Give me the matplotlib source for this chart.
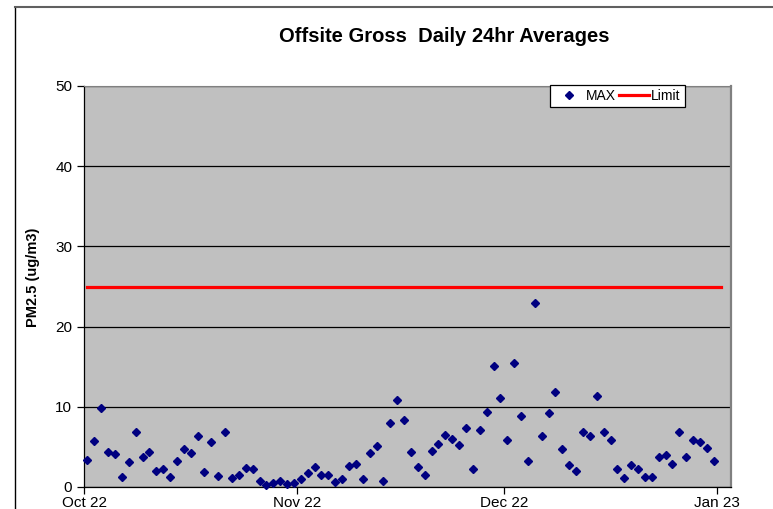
import numpy as np
import matplotlib
matplotlib.use("Agg")
import matplotlib.pyplot as plt
import matplotlib.dates as mdates
from matplotlib.lines import Line2D

plt.rcParams["font.family"] = ["Liberation Sans", "DejaVu Sans"]

# data: daily PM2.5 max, Oct 1 2022 .. Dec 31 2022
oct_vals = [3.4, 5.7, 9.85, 4.4, 4.1, 1.2, 3.1, 6.8, 3.7, 4.4, 2.0, 2.2, 1.3, 3.3, 4.7, 4.3,
            6.3, 1.9, 5.6, 1.4, 6.9, 1.1, 1.5, 2.4, 2.2, 0.75, 0.25, 0.45, 0.8, 0.4, 0.5]
nov_vals = [0.95, 1.8, 2.45, 1.5, 1.5, 0.6, 1.0, 2.6, 2.9, 1.0, 4.3, 5.1, 0.75, 8.0, 10.9,
            8.3, 4.4, 2.45, 1.5, 4.45, 5.3, 6.5, 6.0, 5.2, 7.3, 2.2, 7.1, 9.4, 15.1, 11.1]
dec_vals = [5.8, 15.4, 8.9, 3.2, 22.9, 6.3, 9.2, 11.9, 4.8, 2.8, 2.0, 6.8, 6.3, 11.4, 6.9,
            5.9, 2.2, 1.1, 2.8, 2.2, 1.2, 1.2, 3.7, 4.0, 2.9, 6.8, 3.8, 5.8, 5.6, 4.9, 3.2]
max_vals = oct_vals + nov_vals + dec_vals
limit_value = 25
start_date = "2022-10-01"
month_ticks = ["2022-10-01", "2022-11-01", "2022-12-01", "2023-01-01"]

dates = np.datetime64(start_date) + np.arange(len(max_vals))
# excel centres each point inside its day
x_max = mdates.date2num(dates) + 0.5
lim_dates = np.datetime64(start_date) + np.arange(len(max_vals) + 1)
x_lim = mdates.date2num(lim_dates) + 0.5

fig = plt.figure(figsize=(7.73, 5.09), dpi=100)
ax = fig.add_axes([84 / 773, 22 / 509, 647 / 773, 401 / 509])
ax.set_facecolor("#C0C0C0")

ax.plot(x_lim, [limit_value] * len(x_lim), color="#FF0000", lw=2.3, zorder=3)
ax.plot(x_max, max_vals, ls="none", marker="D", ms=4.3, color="#000080", zorder=4, clip_on=False)

ax.set_ylim(0, 50)
ax.set_yticks(range(0, 51, 10))
ax.yaxis.grid(True, color="black", lw=0.9)
ax.set_axisbelow(True)

x0 = mdates.date2num(np.datetime64(start_date))
ax.set_xlim(x0, x0 + 94)
ax.set_xticks(mdates.date2num(np.array(month_ticks, dtype="datetime64[D]")))
ax.xaxis.set_major_formatter(mdates.DateFormatter("%b %y"))

ax.tick_params(axis="both", direction="out", length=5, width=0.9, color="black", labelsize=11)
ax.tick_params(axis="x", pad=1.5)

for side in ["left", "bottom"]:
    ax.spines[side].set_color("black")
    ax.spines[side].set_linewidth(0.9)
ax.spines["top"].set_color("#808080")
ax.spines["right"].set_color("#808080")
ax.spines["right"].set_linewidth(1.6)

ax.set_ylabel("PM2.5 (ug/m3)", fontsize=10.5, fontweight="bold")
ax.yaxis.set_label_coords(-0.068, 0.522)

fig.text(444 / 773, 1 - 37 / 509, "Offsite Gross  Daily 24hr Averages",
         ha="center", va="center", fontsize=14.5, fontweight="bold")

handles = [Line2D([], [], ls="none", marker="D", ms=4.3, color="#000080"),
           Line2D([], [], color="#FF0000", lw=2.3)]
leg = fig.legend(handles, ["MAX", "Limit"], ncol=2, loc="upper left",
                 bbox_to_anchor=(550 / 773, 1 - 85 / 509), fontsize=10,
                 frameon=True, fancybox=False, framealpha=1, edgecolor="black",
                 handlelength=2.2, handletextpad=0.1, columnspacing=0.2,
                 borderpad=0.3, borderaxespad=0)
leg.get_frame().set_linewidth(0.9)

# chart area frame (cut off on the right and bottom)
fig.add_artist(Line2D([15 / 773, 15 / 773], [0, 1 - 6.5 / 509], color="black", lw=1.0))
fig.add_artist(Line2D([15 / 773, 1], [1 - 6.5 / 509, 1 - 6.5 / 509], color="#606060", lw=1.5))

fig.savefig("out.png", dpi=100)
